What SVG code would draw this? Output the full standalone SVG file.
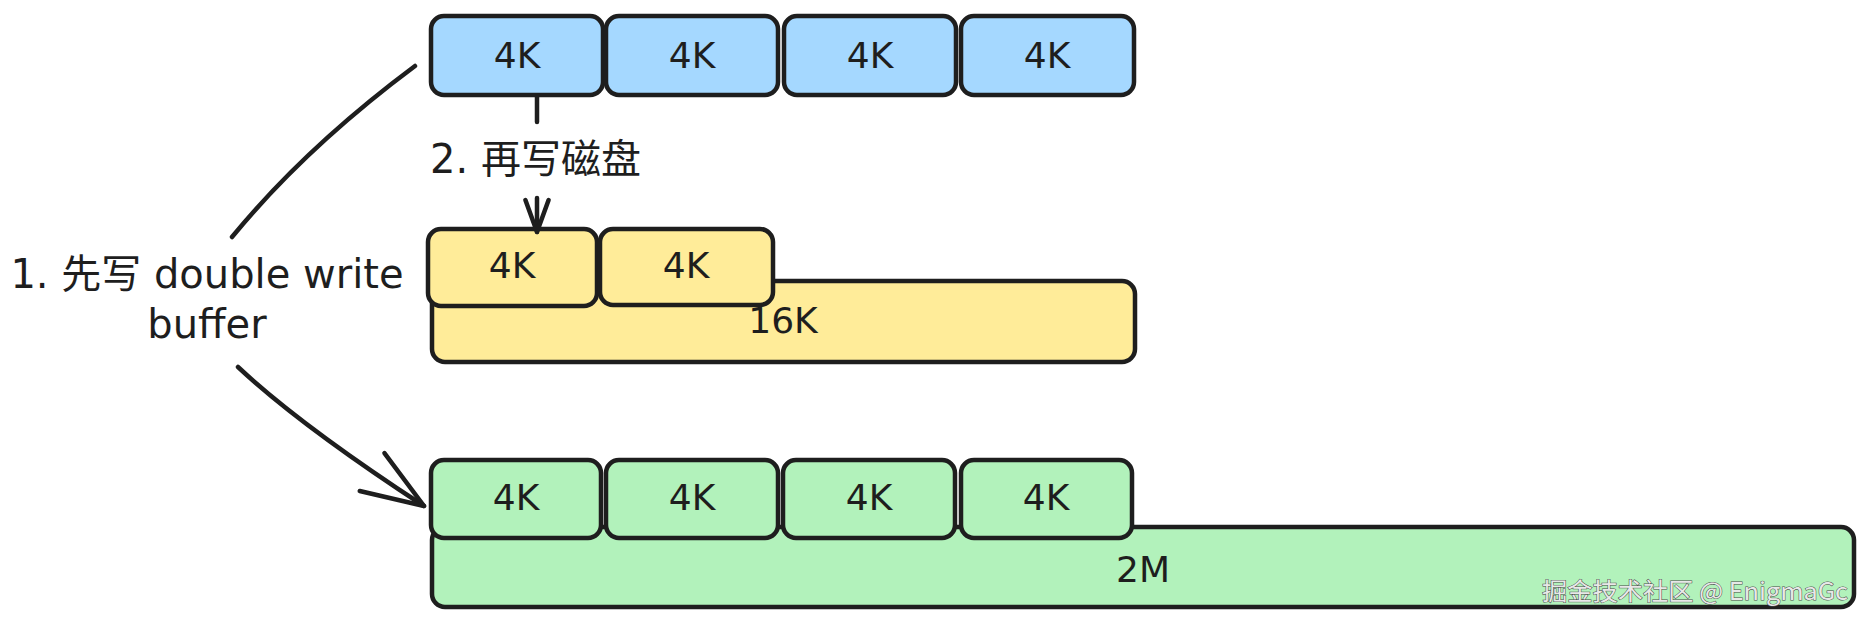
<svg xmlns="http://www.w3.org/2000/svg" width="1872" height="624" viewBox="0 0 1872 624">
<style>
.box{stroke:#1e1e1e;stroke-width:4.5;stroke-linejoin:round}
.blue{fill:#a5d8ff}
.yellow{fill:#ffec99}
.green{fill:#b2f2bb}
.lbl{font-family:"DejaVu Sans","Noto Sans CJK SC",sans-serif;font-size:36px;fill:#1e1e1e;text-anchor:middle}
.note{font-family:"DejaVu Sans","Noto Sans CJK SC",sans-serif;font-size:40px;fill:#1e1e1e}
.wire{fill:none;stroke:#1e1e1e;stroke-width:4.5;stroke-linecap:round}
.wm{font-family:"Noto Sans CJK SC","Noto Sans",sans-serif;font-size:24px;fill:#e8e8e8;stroke:#4a4a4a;stroke-width:1;paint-order:stroke}
</style>
<defs>
<marker id="headL" markerUnits="userSpaceOnUse" orient="auto" refX="70" refY="30" markerWidth="80" markerHeight="60" overflow="visible">
<path d="M8,7.4 L70,30 L8,52.6" fill="none" stroke="#1e1e1e" stroke-width="4.5" stroke-linecap="round" stroke-linejoin="round"/>
</marker>
<marker id="headS" markerUnits="userSpaceOnUse" orient="auto" refX="70" refY="30" markerWidth="80" markerHeight="60" overflow="visible">
<path d="M38,18.4 L70,30 L38,41.6" fill="none" stroke="#1e1e1e" stroke-width="4.5" stroke-linecap="round" stroke-linejoin="round"/>
</marker>
</defs>

<g id="blue-1"><rect class="box blue" x="431" y="16" width="172" height="79" rx="13"/><text class="lbl" x="517" y="68">4K</text></g>
<g id="blue-2"><rect class="box blue" x="606" y="16" width="172" height="79" rx="13"/><text class="lbl" x="692" y="68">4K</text></g>
<g id="blue-3"><rect class="box blue" x="784" y="16" width="172" height="79" rx="13"/><text class="lbl" x="870" y="68">4K</text></g>
<g id="blue-4"><rect class="box blue" x="961" y="16" width="173" height="79" rx="13"/><text class="lbl" x="1047" y="68">4K</text></g>

<g id="yellow-16k"><rect class="box yellow" x="432" y="281" width="703" height="81" rx="13"/><text class="lbl" x="783" y="333">16K</text></g>
<g id="yellow-1"><rect class="box yellow" x="428" y="229" width="169" height="77" rx="13"/><text class="lbl" x="512" y="278">4K</text></g>
<g id="yellow-2"><rect class="box yellow" x="600" y="229" width="173" height="76" rx="13"/><text class="lbl" x="686" y="278">4K</text></g>

<g id="green-2m"><rect class="box green" x="432" y="527" width="1422" height="80" rx="13"/><text class="lbl" x="1143" y="582">2M</text></g>
<g id="green-1"><rect class="box green" x="431" y="460" width="170" height="78" rx="13"/><text class="lbl" x="516" y="510">4K</text></g>
<g id="green-2"><rect class="box green" x="606" y="460" width="172" height="78" rx="13"/><text class="lbl" x="692" y="510">4K</text></g>
<g id="green-3"><rect class="box green" x="783" y="460" width="172" height="78" rx="13"/><text class="lbl" x="869" y="510">4K</text></g>
<g id="green-4"><rect class="box green" x="961" y="460" width="171" height="78" rx="13"/><text class="lbl" x="1046" y="510">4K</text></g>

<g id="connectors">
<path class="wire" d="M415,66 Q305,148 232,237"/>
<path class="wire" d="M238,367 Q300,425 424,506" marker-end="url(#headL)"/>
<text class="note" x="207" y="288" text-anchor="middle">1. 先写 double write</text>
<text class="note" x="207" y="338" text-anchor="middle">buffer</text>
<path class="wire" d="M537,97 V122"/>
<path class="wire" d="M537,198 V232" marker-end="url(#headS)"/>
<text class="note" x="430" y="173">2. 再写磁盘</text>
</g>

<text class="wm" x="1542" y="600" textLength="306" lengthAdjust="spacingAndGlyphs">掘金技术社区 @ EnigmaGc</text>
</svg>
